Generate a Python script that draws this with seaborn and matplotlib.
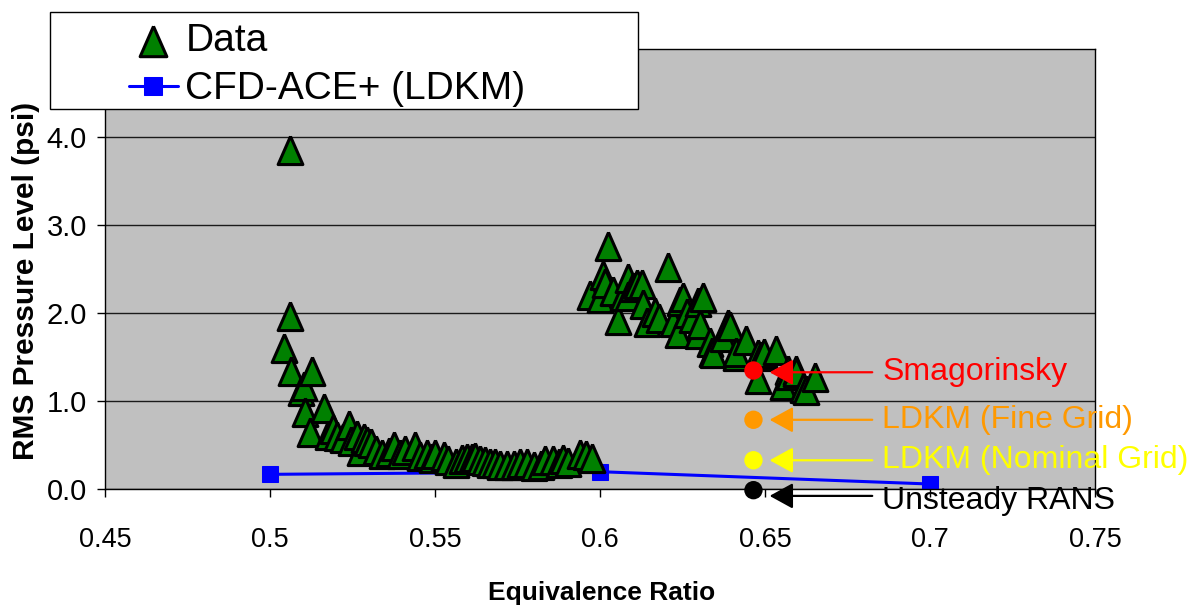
import matplotlib
matplotlib.use("Agg")
import matplotlib.pyplot as plt
from matplotlib.patches import Rectangle
import seaborn as sns

# ---------------- data ----------------
phi_data = [0.5042, 0.5060, 0.5060, 0.5063, 0.5093, 0.5103, 0.5105, 0.5121, 0.5126, 0.5163,
            0.5177, 0.5190, 0.5204, 0.5220, 0.5239, 0.5245, 0.5264, 0.5274, 0.5285, 0.5295,
            0.5305, 0.5320, 0.5340, 0.5360, 0.5375, 0.5395, 0.5410, 0.5440, 0.5455, 0.5476,
            0.5490, 0.5501, 0.5526, 0.5540, 0.5565, 0.5582, 0.5597, 0.5612, 0.5622, 0.5637,
            0.5652, 0.5667, 0.5682, 0.5697, 0.5718, 0.5738, 0.5758, 0.5778, 0.5800, 0.5820,
            0.5833, 0.5859, 0.5875, 0.5889, 0.5904, 0.5939, 0.5959, 0.5975,
            0.5969, 0.6000, 0.6010, 0.6015, 0.6023, 0.6040, 0.6055, 0.6070, 0.6085, 0.6085,
            0.6100, 0.6111, 0.6126, 0.6130, 0.6141, 0.6166, 0.6180, 0.6206, 0.6221, 0.6236,
            0.6242, 0.6252, 0.6265, 0.6280, 0.6297, 0.6297, 0.6302, 0.6312, 0.6332, 0.6338,
            0.6342, 0.6372, 0.6388, 0.6393, 0.6413, 0.6413, 0.6443, 0.6478, 0.6478, 0.6488,
            0.6498, 0.6534, 0.6554, 0.6569, 0.6574, 0.6594, 0.6594, 0.6614, 0.6625, 0.6650]
prms_data = [1.60, 3.86, 1.97, 1.34, 1.12, 1.17, 0.88, 0.65, 1.34, 0.92,
             0.62, 0.68, 0.60, 0.58, 0.73, 0.55, 0.62, 0.43, 0.58, 0.55,
             0.53, 0.45, 0.40, 0.42, 0.49, 0.40, 0.45, 0.49, 0.38, 0.40,
             0.36, 0.40, 0.38, 0.33, 0.30, 0.34, 0.35, 0.35, 0.37, 0.33,
             0.32, 0.30, 0.30, 0.28, 0.28, 0.28, 0.30, 0.30, 0.27, 0.28,
             0.33, 0.33, 0.30, 0.34, 0.31, 0.40, 0.39, 0.36,
             2.21, 2.17, 2.44, 2.34, 2.76, 2.25, 1.92, 2.20, 2.40, 2.20,
             2.30, 2.33, 2.33, 2.10, 1.90, 2.01, 1.95, 2.53, 1.90, 1.78,
             2.14, 2.18, 2.00, 1.95, 2.13, 1.76, 1.88, 2.18, 1.67, 1.56,
             1.55, 1.73, 1.88, 1.85, 1.51, 1.56, 1.70, 1.54, 1.25, 1.52,
             1.55, 1.58, 1.18, 1.36, 1.30, 1.35, 1.33, 1.15, 1.13, 1.28]

phi_cfd = [0.5, 0.6, 0.7]
prms_cfd = [0.17, 0.20, 0.06]

ann_labels = ["Smagorinsky", "LDKM (Fine Grid)", "LDKM (Nominal Grid)", "Unsteady RANS"]
ann_phi = [0.6465, 0.6465, 0.6465, 0.6465]
ann_prms = [1.35, 0.79, 0.33, -0.01]
ann_colors = ["#FF0000", "#FF9900", "#FFFF00", "#000000"]

x_ticks = [0.45, 0.5, 0.55, 0.6, 0.65, 0.7, 0.75]
x_tick_labels = ["0.45", "0.5", "0.55", "0.6", "0.65", "0.7", "0.75"]
y_ticks = [0, 1, 2, 3, 4]
y_tick_labels = ["0.0", "1.0", "2.0", "3.0", "4.0"]

# ---------------- style ----------------
sns.set_style("white")
plt.rcParams["font.family"] = ["Liberation Sans", "DejaVu Sans"]
for k in ["text.color", "axes.labelcolor", "xtick.color", "ytick.color"]:
    plt.rcParams[k] = "black"

W, H = 1199, 610
fig = plt.figure(figsize=(W / 100, H / 100), dpi=100)
ax = fig.add_axes([105 / W, 1 - 489.3 / H, 990 / W, 440 / H])
ax.set_facecolor("#C0C0C0")

sns.lineplot(x=phi_cfd, y=prms_cfd, ax=ax, color="#0000FF", marker="s",
             markersize=11.5, markeredgecolor="#0000FF", linewidth=2.2,
             sort=False, label="CFD-ACE+ (LDKM)", zorder=2)

tri = [(0, 1), (-0.88, -1), (0.88, -1), (0, 1)]
sns.scatterplot(x=phi_data, y=prms_data, ax=ax, marker=tri, s=410,
                color="#008000", edgecolor="black", linewidth=2.2,
                label="Data", zorder=3)

# annotations
sns.scatterplot(x=ann_phi, y=ann_prms, hue=ann_labels, palette=ann_colors,
                s=175, linewidth=0, legend=False, ax=ax, zorder=4, clip_on=False)
arrow_dy = [-0.02, 0.0, 0.0, -0.065]
text_dy = [-0.015, 0.0, 0.0, -0.12]
tip_x, tail_x, text_x = 0.6514, 0.6825, 0.6855
for lab, y, c, ady, tdy in zip(ann_labels, ann_prms, ann_colors, arrow_dy, text_dy):
    ax.annotate("", xy=(tip_x, y + ady), xytext=(tail_x, y + ady),
                arrowprops=dict(arrowstyle="-|>,head_length=0.4,head_width=0.22",
                                color=c, lw=1.6, mutation_scale=36,
                                shrinkA=0, shrinkB=0),
                annotation_clip=False, zorder=5)
    ax.text(text_x, y + tdy, lab, color=c, fontsize=23, va="center", ha="left",
            clip_on=False, zorder=5)

# axes
ax.set_xlim(0.45, 0.75)
ax.set_ylim(0, 5)
ax.set_xticks(x_ticks)
ax.set_xticklabels(x_tick_labels, fontsize=19.5)
ax.set_yticks(y_ticks)
ax.set_yticklabels(y_tick_labels, fontsize=21)
ax.tick_params(axis="x", length=6, width=1, pad=21, colors="black", direction="out", bottom=True)
ax.tick_params(axis="y", length=5.5, width=1, pad=7.6, colors="black", direction="out", left=True)
ax.yaxis.grid(True, color="#1a1a1a", linewidth=1.0)
ax.xaxis.grid(False)
ax.set_axisbelow(True)
for sp in ax.spines.values():
    sp.set_visible(True)
    sp.set_color("black")
    sp.set_linewidth(1.0)

ax.set_ylabel("RMS Pressure Level (psi)", fontsize=21.5, fontweight="bold", color="black")
ax.yaxis.set_label_coords(-0.0657, 0.473)
ax.set_xlabel("Equivalence Ratio", fontsize=19, fontweight="bold", color="black")
ax.xaxis.set_label_coords(0.5017, -0.208)

# legend (box + entries)
handles, labels = ax.get_legend_handles_labels()
order = [labels.index("Data"), labels.index("CFD-ACE+ (LDKM)")]
if ax.legend_:
    ax.legend_.remove()
box = Rectangle((50 / W, 1 - 109 / H), 588 / W, 97 / H, transform=fig.transFigure,
                facecolor="white", edgecolor="black", linewidth=1.0, zorder=5)
fig.patches.append(box)
leg = fig.legend([handles[i] for i in order], [labels[i] for i in order],
                 loc="upper left", bbox_to_anchor=(128.6 / W, 1 - 23 / H),
                 bbox_transform=fig.transFigure, frameon=False, fontsize=28,
                 borderpad=0, borderaxespad=0, handlelength=1.26,
                 handletextpad=0.2, labelspacing=0.32, markerscale=1.08)
for t in leg.get_texts():
    t.set_color("black")
leg.set_zorder(6)

fig.savefig("out.png", dpi=100, facecolor="white")
